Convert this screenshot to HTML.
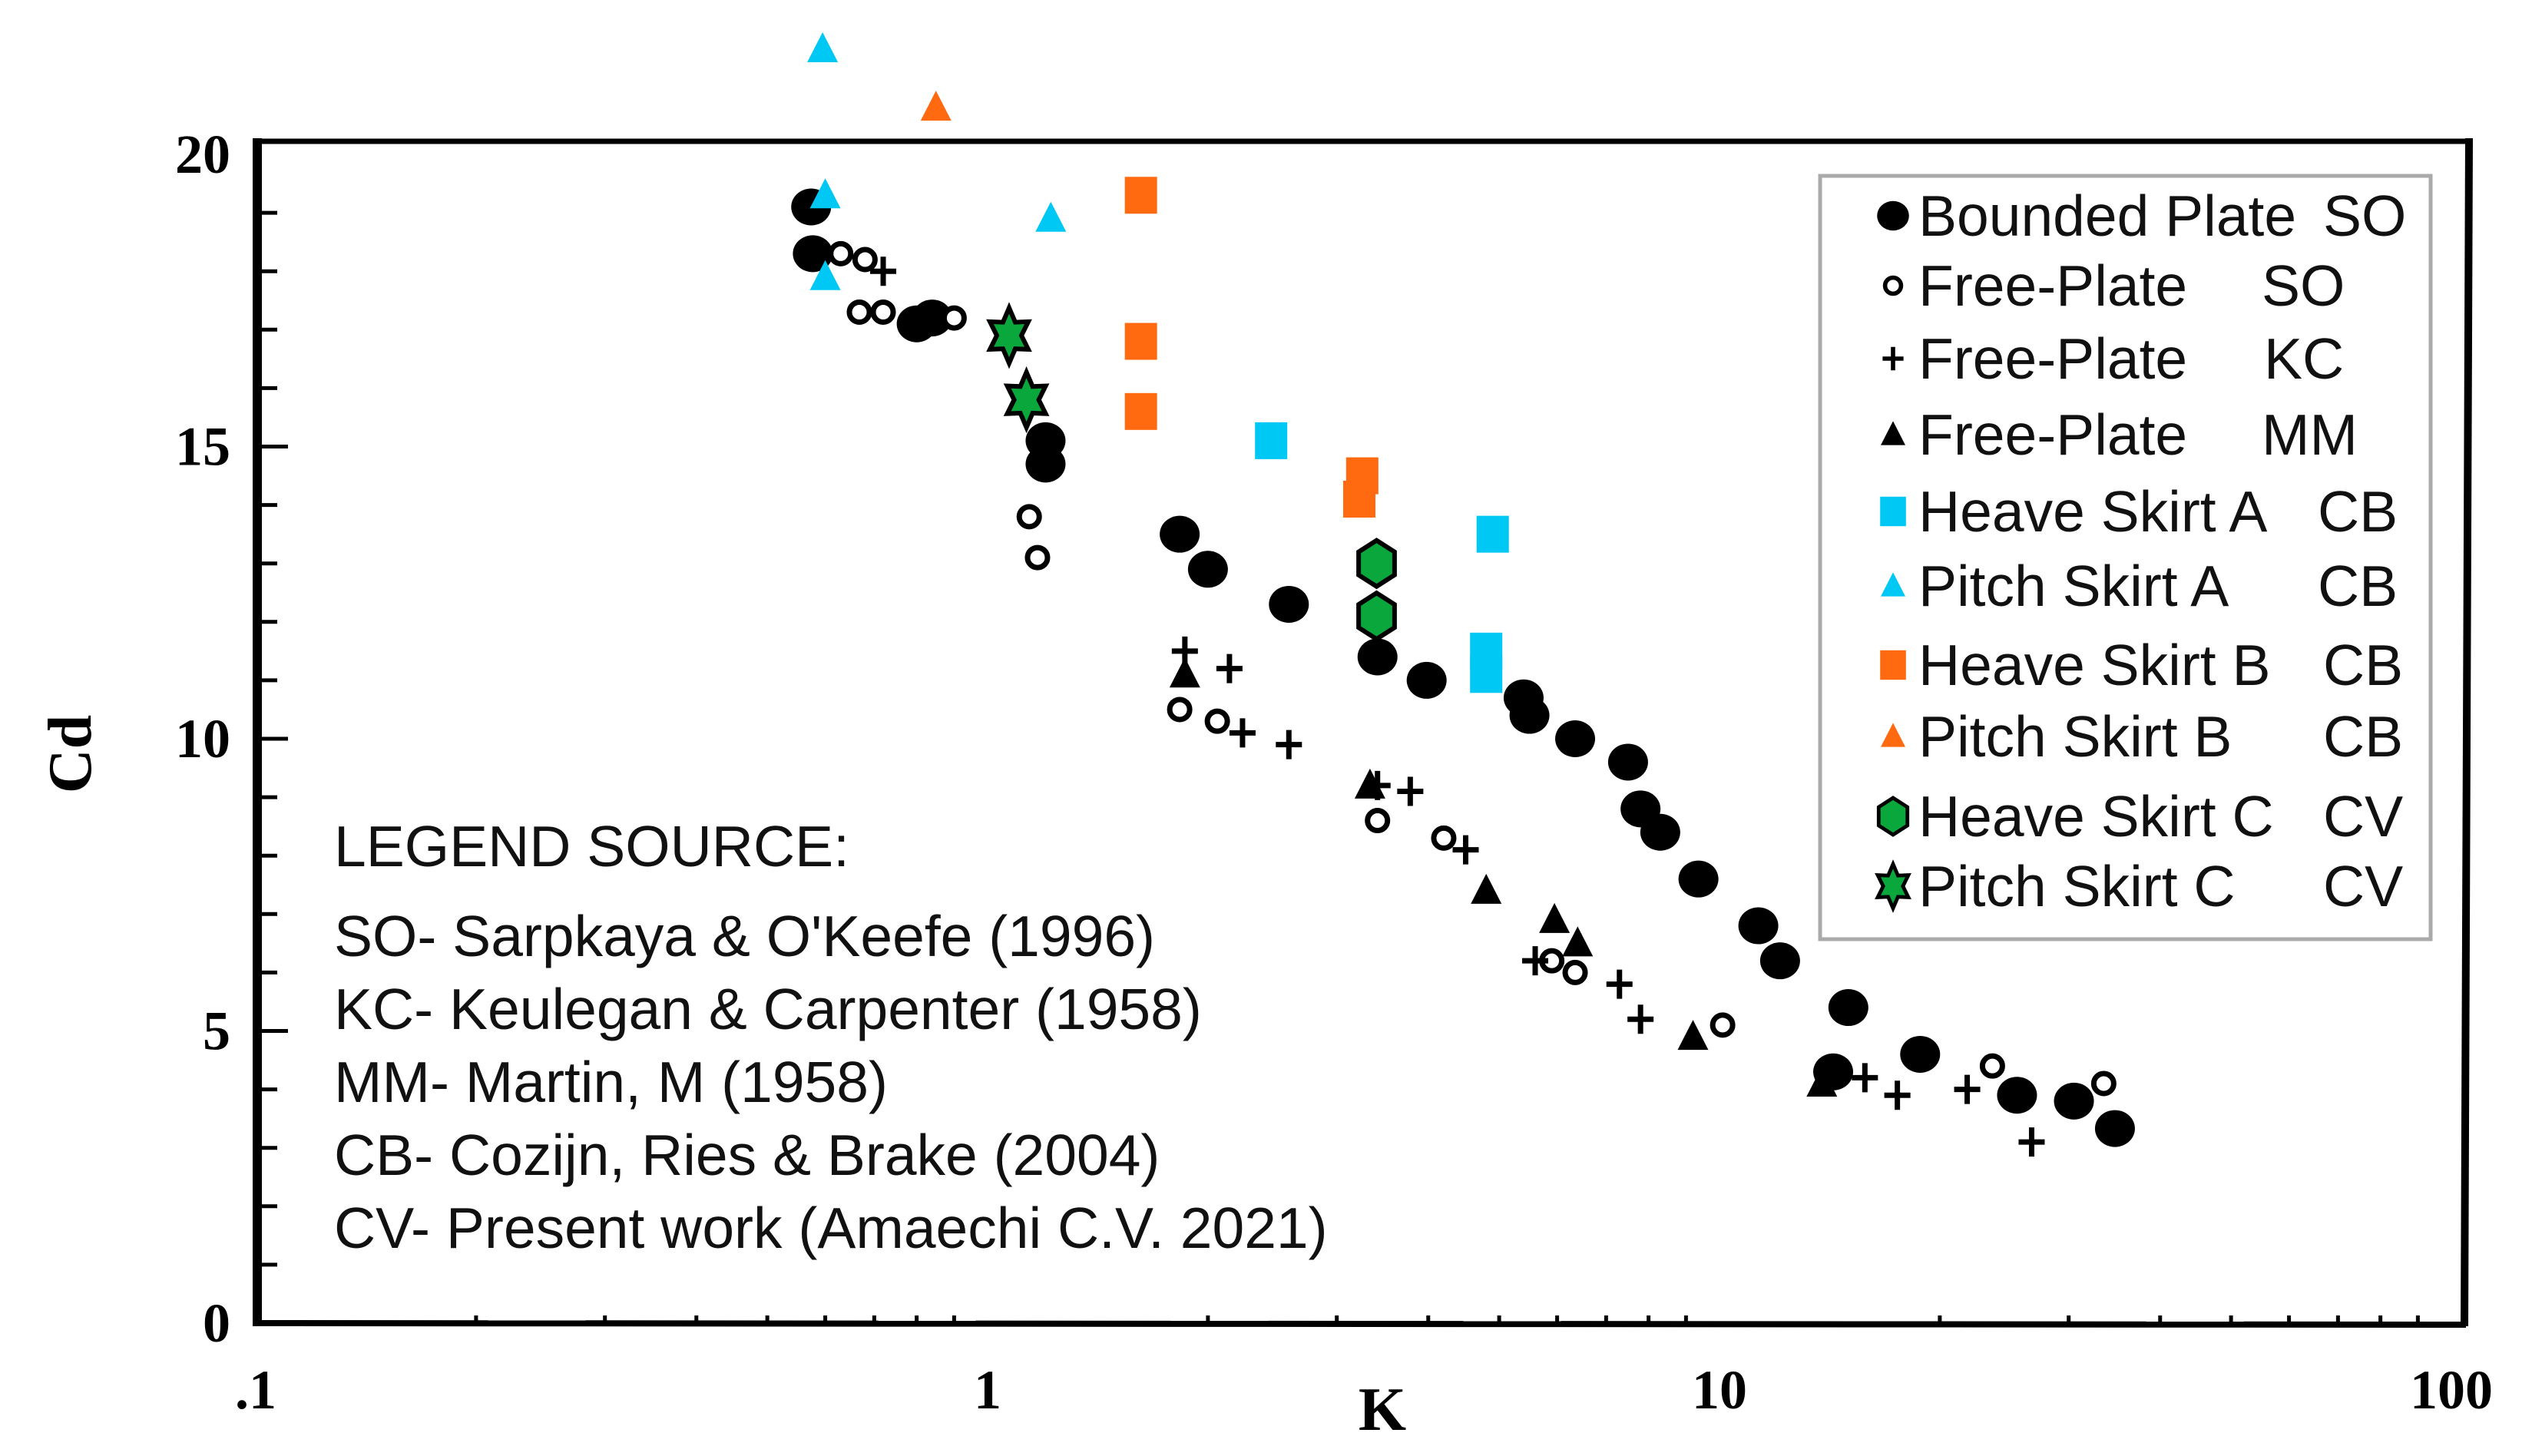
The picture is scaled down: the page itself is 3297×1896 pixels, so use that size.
<!DOCTYPE html>
<html><head><meta charset="utf-8"><style>
html,body{margin:0;padding:0;background:#fff;}
svg{display:block;}
</style></head><body>
<svg id="chart" width="3297" height="1896" viewBox="0 0 3297 1896" xmlns="http://www.w3.org/2000/svg" font-family="Liberation Sans, sans-serif">
<rect x="0" y="0" width="3297" height="1896" fill="#fff"/>
<g id="frame">
<line x1="333" y1="184" x2="3215" y2="184" stroke="#000" stroke-width="7"/>
<line x1="3215" y1="180" x2="3209" y2="1727" stroke="#000" stroke-width="10"/>
<line x1="333" y1="1723" x2="3211" y2="1725" stroke="#000" stroke-width="8"/>
<line x1="335" y1="180" x2="335" y2="1727" stroke="#000" stroke-width="12"/>
</g>
<g id="ticks"></g>
<g id="ticklabels" font-family="Liberation Serif, serif" font-weight="bold" font-size="72"></g>
<text x="0" y="0" transform="translate(118,982) rotate(-90)" text-anchor="middle" font-family="Liberation Serif, serif" font-weight="bold" font-size="80">Cd</text>
<text x="1800" y="1862" text-anchor="middle" font-family="Liberation Serif, serif" font-weight="bold" font-size="80">K</text>
<g id="sources" font-size="75" fill="#111">
<text x="435" y="1128">LEGEND SOURCE:</text>
<text x="435" y="1245">SO- Sarpkaya &amp; O'Keefe (1996)</text>
<text x="435" y="1340">KC- Keulegan &amp; Carpenter (1958)</text>
<text x="435" y="1435">MM- Martin, M (1958)</text>
<text x="435" y="1530">CB- Cozijn, Ries &amp; Brake (2004)</text>
<text x="435" y="1625">CV- Present work (Amaechi C.V. 2021)</text>
</g>
<g id="marks"></g>
<g id="legend">
<rect x="2370" y="229" width="795" height="994" fill="#fff" stroke="#aaa" stroke-width="5"/>
</g>
</svg>
<script>
// data arrays
var xTickValues = [0.1, 1, 10, 100];
var xTickLabels = [".1", "1", "10", "100"];
var yTickValues = [0, 5, 10, 15, 20];
var yTickLabels = ["0", "5", "10", "15", "20"];

var boundedK  = [0.574,0.577,0.80,0.84,1.20,1.20,1.83,2.0,2.58,3.41,3.98,5.40,5.5,6.35,7.5,7.8,8.3,9.36,11.3,12.1,15.0,18.8,25.5,30.5,34.7,14.3];
var boundedCd = [19.1,18.3,17.1,17.2,15.1,14.7,13.5,12.9,12.3,11.4,11.0,10.7,10.4,10.0,9.6,8.8,8.4,7.6,6.8,6.2,5.4,4.6,3.9,3.8,3.33,4.3];
var freeSoK  = [0.668,0.72,0.90,1.14,1.17,1.83,2.06,3.41,4.2,5.9,6.35,10.1,23.6,33.5,0.63,0.68];
var freeSoCd = [17.3,17.3,17.2,13.8,13.1,10.5,10.3,8.6,8.3,6.2,6.0,5.1,4.4,4.1,18.3,18.2];
var freeKcK  = [1.86,2.14,2.23,2.58,3.41,3.78,4.5,5.6,7.3,7.8,15.8,17.5,21.8,26.7,0.72];
var freeKcCd = [11.5,11.2,10.1,9.9,9.2,9.1,8.1,6.2,5.8,5.2,4.2,3.9,4.0,3.1,18.0];
var freeMmK  = [1.86,3.33,4.8,5.95,6.4,9.2,13.8];
var freeMmCd = [11.1,9.2,7.4,6.9,6.5,4.9,4.1];
var heaveAK  = [2.44,4.9,4.8,4.8];
var heaveACd = [15.1,13.5,11.5,11.1];
var pitchAK  = [0.595,0.60,0.60,1.22];
var pitchACd = [21.8,19.3,17.9,18.9];
var heaveBK  = [1.62,1.62,1.62,3.25,3.22];
var heaveBCd = [19.3,16.8,15.6,14.5,14.1];
var pitchBK  = [0.85];
var pitchBCd = [20.8];
var heaveCK  = [3.40,3.40];
var heaveCCd = [13.0,12.1];
var pitchCK  = [1.07,1.13];
var pitchCCd = [16.9,15.8];

var legendLabels = ["Bounded Plate","Free-Plate","Free-Plate","Free-Plate","Heave Skirt A","Pitch Skirt A","Heave Skirt B","Pitch Skirt B","Heave Skirt C","Pitch Skirt  C"];
var legendCodes = ["SO","SO","KC","MM","CB","CB","CB","CB","CV","CV"];

var NS = "http://www.w3.org/2000/svg";
function xs(k){ return 333 + 953 * Math.log10(k / 0.1); }
function ys(v){ return 1723 - 76.1 * v; }
function mk(tag, attrs, parent){
  var e = document.createElementNS(NS, tag);
  for (var a in attrs) e.setAttribute(a, attrs[a]);
  parent.appendChild(e);
  return e;
}
var ticks = document.getElementById("ticks");
var tl = document.getElementById("ticklabels");
var marks = document.getElementById("marks");
var legend = document.getElementById("legend");

for (var v = 1; v < 20; v++) {
  var len = (v % 5 === 0) ? 40 : 26;
  var t = mk("line", {x1:335, y1:ys(v), x2:335+len, y2:ys(v), stroke:"#000", "stroke-width":5}, ticks);
  
  
}
yTickValues.forEach(function(val, i){
  var t = mk("text", {x:300, y:ys(val)+24, "text-anchor":"end"}, tl);
  t.textContent = yTickLabels[i];
  
  
});
for (var d = 0.1; d < 100; d *= 10) {
  for (var m = 2; m <= 9; m++) {
    var xx = xs(d * m);
    var t2 = mk("line", {x1:xx, y1:1723, x2:xx, y2:1713, stroke:"#000", "stroke-width":5}, ticks);
    
    
  }
}
xTickValues.forEach(function(val, i){
  var t = mk("text", {x:xs(val), y:1834, "text-anchor":"middle"}, tl);
  t.textContent = xTickLabels[i];
  
  
});

function shape(type, cx, cy, parent, s){
  s = s || 1;
  if (type === "ellipse") return mk("ellipse", {cx:cx, cy:cy, rx:26*s, ry:24*s, fill:"#000"}, parent);
  if (type === "circle") return mk("circle", {cx:cx, cy:cy, r:13*s, fill:"#fff", stroke:"#000", "stroke-width":7*s}, parent);
  if (type === "plus") return mk("path", {d:"M"+(cx-17*s)+","+cy+"H"+(cx+17*s)+"M"+cx+","+(cy-19*s)+"V"+(cy+19*s), stroke:"#000", "stroke-width":7*s, fill:"none"}, parent);
  if (type === "tri" || type === "triC" || type === "triO") {
    var col = type === "tri" ? "#000" : (type === "triC" ? "#00c8f5" : "#ff6a10");
    return mk("polygon", {points:(cx-20*s)+","+(cy+17*s)+" "+(cx+20*s)+","+(cy+17*s)+" "+cx+","+(cy-22*s), fill:col}, parent);
  }
  if (type === "sqC" || type === "sqO") {
    var c2 = type === "sqC" ? "#00c8f5" : "#ff6a10";
    return mk("rect", {x:cx-21*s, y:cy-24*s, width:42*s, height:48*s, fill:c2}, parent);
  }
  if (type === "hex") {
    var p = [];
    for (var i = 0; i < 6; i++) { var a = Math.PI/6 + i*Math.PI/3; p.push((cx+27*s*Math.cos(a))+","+(cy+30*s*Math.sin(a))); }
    return mk("polygon", {points:p.join(" "), fill:"#0aa83c", stroke:"#000", "stroke-width":6*s}, parent);
  }
  if (type === "star") {
    var q = [];
    for (var j = 0; j < 12; j++) { var b = -Math.PI/2 + j*Math.PI/6; var r = (j % 2 === 0) ? 36*s : 20*s; q.push((cx+r*Math.cos(b)*0.8)+","+(cy+r*Math.sin(b))); }
    return mk("polygon", {points:q.join(" "), fill:"#0aa83c", stroke:"#000", "stroke-width":6*s}, parent);
  }
}
function series(ks, cds, type, name){
  var g = mk("g", {}, marks);
  
  
  for (var i = 0; i < ks.length; i++) {
    var e = shape(type, xs(ks[i]), ys(cds[i]), g);
    
    
  }
}
series(boundedK, boundedCd, "ellipse", "bounded-plate-so");
series(freeSoK, freeSoCd, "circle", "free-plate-so");
series(freeKcK, freeKcCd, "plus", "free-plate-kc");
series(freeMmK, freeMmCd, "tri", "free-plate-mm");
series(heaveAK, heaveACd, "sqC", "heave-skirt-a");
series(pitchAK, pitchACd, "triC", "pitch-skirt-a");
series(heaveBK, heaveBCd, "sqO", "heave-skirt-b");
series(pitchBK, pitchBCd, "triO", "pitch-skirt-b");
series(heaveCK, heaveCCd, "hex", "heave-skirt-c");
series(pitchCK, pitchCCd, "star", "pitch-skirt-c");

var legTypes = ["ellipse","circle","plus","tri","sqC","triC","sqO","triO","hex","star"];
var legY = [281,372,467,566,666,763,866,959,1063,1154];
var codeX = [3025,2945,2948,2945,3018,3018,3025,3025,3025,3025];
for (var i = 0; i < legendLabels.length; i++) {
  var g = mk("g", {}, legend);
  
  
  shape(legTypes[i], 2465, legY[i], g, 0.8);
  var t = mk("text", {x:2498, y:legY[i]+26, "font-size":75, fill:"#111"}, g);
  t.textContent = legendLabels[i];
  var c = mk("text", {x:codeX[i], y:legY[i]+26, "font-size":75, fill:"#111"}, g);
  c.textContent = legendCodes[i];
}
</script>
</body></html>
